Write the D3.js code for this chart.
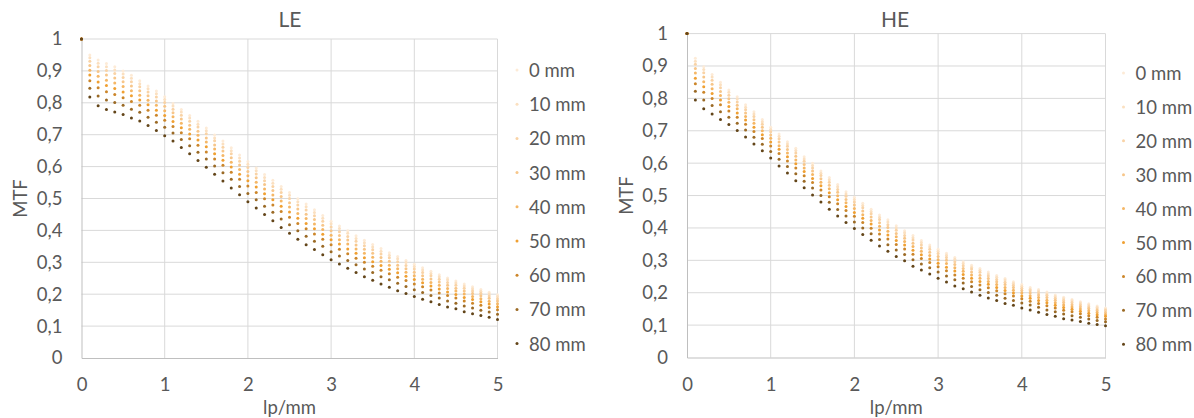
<!DOCTYPE html>
<html><head><meta charset="utf-8">
<script src="https://cdn.jsdelivr.net/npm/d3@7"></script>
<style>
body{margin:0;background:#fff;}
svg{display:block;font-family:Lato,"Open Sans",sans-serif;}
</style></head><body>
<svg id="c" width="1194" height="418"></svg>
<script>
// ---- data ----
const lpmm = [0,0.1,0.2,0.3,0.4,0.5,0.6,0.7,0.8,0.9,1.0,1.1,1.2,1.3,1.4,1.5,1.6,1.7,1.8,1.9,2.0,2.1,2.2,2.3,2.4,2.5,2.6,2.7,2.8,2.9,3.0,3.1,3.2,3.3,3.4,3.5,3.6,3.7,3.8,3.9,4.0,4.1,4.2,4.3,4.4,4.5,4.6,4.7,4.8,4.9,5.0];
const seriesLabels = ["0 mm","10 mm","20 mm","30 mm","40 mm","50 mm","60 mm","70 mm","80 mm"];
const chartTitles = ["LE","HE"];
const yTicks = [0,0.1,0.2,0.3,0.4,0.5,0.6,0.7,0.8,0.9,1];
const xTicks = [0,1,2,3,4,5];

const LE_0mm  = [1,.950,.934,.923,.913,.900,.886,.869,.853,.837,.819,.798,.779,.760,.742,.721,.699,.680,.659,.636,.616,.596,.575,.557,.538,.519,.499,.483,.465,.447,.429,.414,.399,.383,.369,.356,.343,.330,.318,.306,.294,.283,.272,.261,.251,.241,.232,.223,.215,.206,.198];
const LE_10mm = [1,.941,.924,.913,.903,.890,.877,.860,.844,.828,.810,.790,.771,.752,.733,.712,.690,.671,.650,.627,.607,.587,.566,.548,.529,.510,.490,.474,.456,.438,.421,.406,.391,.375,.361,.348,.335,.322,.311,.299,.287,.276,.265,.255,.245,.235,.226,.217,.209,.201,.193];
const LE_20mm = [1,.930,.913,.901,.892,.879,.866,.850,.834,.818,.801,.780,.761,.742,.724,.703,.681,.661,.640,.617,.597,.577,.556,.538,.519,.500,.480,.464,.446,.429,.411,.396,.381,.366,.352,.339,.326,.314,.302,.290,.279,.268,.258,.247,.237,.228,.219,.210,.203,.194,.186];
const LE_30mm = [1,.917,.898,.887,.878,.866,.853,.838,.822,.806,.789,.769,.749,.730,.711,.690,.668,.649,.628,.605,.585,.565,.544,.525,.506,.487,.467,.451,.434,.416,.399,.384,.370,.354,.341,.328,.315,.303,.291,.280,.269,.258,.248,.238,.228,.219,.210,.202,.195,.187,.179];
const LE_40mm = [1,.902,.883,.871,.862,.851,.838,.824,.808,.792,.775,.756,.736,.717,.698,.677,.655,.635,.614,.591,.571,.551,.530,.511,.492,.473,.453,.437,.420,.403,.385,.371,.357,.342,.328,.316,.303,.291,.280,.269,.258,.247,.237,.228,.218,.210,.201,.193,.186,.178,.170];
const LE_50mm = [1,.887,.865,.854,.845,.834,.822,.809,.794,.777,.760,.741,.722,.702,.683,.662,.640,.620,.599,.576,.556,.536,.515,.496,.476,.458,.438,.422,.405,.388,.371,.357,.342,.328,.314,.302,.290,.278,.267,.256,.246,.236,.226,.216,.207,.199,.190,.183,.176,.169,.161];
const LE_60mm = [1,.869,.847,.835,.826,.816,.804,.792,.777,.761,.745,.726,.706,.687,.667,.646,.624,.604,.582,.560,.539,.519,.499,.480,.459,.441,.422,.405,.389,.372,.355,.341,.327,.313,.300,.288,.275,.264,.253,.243,.232,.223,.213,.204,.196,.188,.179,.172,.165,.158,.151];
const LE_70mm = [1,.846,.821,.809,.801,.792,.780,.770,.755,.739,.723,.705,.685,.665,.645,.624,.602,.581,.560,.538,.516,.496,.476,.457,.436,.418,.399,.382,.366,.350,.333,.320,.306,.292,.279,.268,.255,.245,.234,.224,.214,.205,.196,.188,.179,.172,.163,.157,.150,.144,.137];
const LE_80mm = [1,.818,.791,.779,.771,.763,.752,.743,.729,.713,.697,.680,.660,.640,.619,.598,.576,.555,.533,.512,.490,.470,.450,.430,.409,.391,.372,.355,.340,.324,.308,.295,.281,.268,.255,.244,.232,.222,.211,.202,.193,.184,.176,.168,.160,.154,.145,.139,.133,.128,.121];

const HE_0mm  = [1,.924,.898,.874,.850,.826,.805,.780,.759,.735,.711,.690,.666,.646,.620,.600,.576,.556,.534,.512,.495,.476,.458,.440,.425,.407,.391,.377,.361,.347,.334,.322,.309,.296,.285,.275,.264,.253,.244,.234,.225,.216,.210,.202,.193,.186,.179,.172,.166,.159,.153];
const HE_10mm = [1,.915,.889,.866,.842,.819,.798,.773,.752,.728,.704,.683,.659,.639,.613,.593,.569,.549,.527,.505,.488,.469,.451,.433,.418,.400,.385,.370,.355,.341,.328,.316,.303,.290,.279,.269,.258,.248,.239,.229,.220,.211,.205,.197,.188,.181,.175,.168,.162,.155,.149];
const HE_20mm = [1,.905,.879,.856,.833,.810,.789,.765,.744,.720,.697,.675,.652,.631,.606,.585,.562,.541,.519,.498,.480,.462,.444,.426,.410,.393,.377,.363,.347,.334,.321,.309,.296,.283,.273,.263,.252,.241,.232,.223,.214,.206,.200,.192,.183,.176,.170,.163,.157,.150,.145];
const HE_30mm = [1,.892,.866,.844,.821,.799,.779,.755,.734,.711,.687,.665,.642,.621,.596,.576,.552,.532,.510,.488,.471,.452,.434,.416,.401,.383,.368,.353,.338,.325,.312,.300,.287,.275,.264,.254,.244,.234,.225,.216,.207,.199,.193,.185,.177,.170,.163,.157,.151,.145,.139];
const HE_40mm = [1,.878,.851,.830,.809,.788,.768,.744,.723,.700,.677,.654,.631,.610,.585,.565,.541,.521,.499,.478,.460,.441,.423,.405,.390,.373,.358,.343,.328,.315,.302,.290,.277,.266,.255,.245,.235,.225,.216,.208,.199,.191,.185,.177,.169,.162,.156,.150,.144,.139,.133];
const HE_50mm = [1,.862,.836,.815,.795,.775,.755,.733,.711,.688,.665,.643,.620,.598,.574,.553,.530,.509,.487,.466,.448,.430,.412,.394,.378,.361,.347,.331,.317,.304,.291,.279,.267,.256,.245,.235,.226,.216,.207,.199,.190,.183,.176,.169,.161,.154,.149,.143,.137,.132,.127];
const HE_60mm = [1,.845,.819,.800,.780,.761,.742,.720,.698,.676,.653,.630,.607,.585,.561,.540,.517,.496,.475,.454,.436,.417,.399,.381,.366,.349,.335,.319,.306,.293,.280,.268,.255,.245,.234,.224,.215,.206,.197,.190,.181,.174,.167,.160,.153,.146,.141,.135,.129,.124,.119];
const HE_70mm = [1,.822,.795,.778,.759,.742,.723,.702,.680,.658,.636,.612,.590,.567,.544,.523,.500,.479,.457,.437,.418,.400,.382,.364,.348,.332,.318,.302,.289,.277,.264,.252,.240,.230,.219,.209,.201,.192,.183,.176,.168,.162,.155,.147,.141,.134,.129,.124,.119,.114,.110];
const HE_80mm = [1,.795,.768,.752,.735,.719,.701,.681,.659,.638,.616,.591,.570,.546,.524,.502,.480,.458,.437,.417,.398,.380,.362,.344,.328,.312,.299,.282,.270,.258,.245,.233,.221,.212,.202,.192,.184,.176,.167,.161,.153,.147,.140,.133,.127,.120,.116,.111,.106,.102,.098];

const LE_series = [LE_0mm,LE_10mm,LE_20mm,LE_30mm,LE_40mm,LE_50mm,LE_60mm,LE_70mm,LE_80mm];
const HE_series = [HE_0mm,HE_10mm,HE_20mm,HE_30mm,HE_40mm,HE_50mm,HE_60mm,HE_70mm,HE_80mm];

// ---- style ----
const palette = ['#fdebd7','#fbe0c0','#f9d3a6','#f7c68a','#f5b766','#f0a032','#cc862a','#9b6a25','#634519'];
const textColor = '#595959';
const gridColor = '#d9d9d9';
const fmt = d3.formatLocale({decimal:",",thousands:".",grouping:[3],currency:["",""]}).format("~g");

const svg = d3.select('#c');

const panels = [
  {title: chartTitles[0], data: LE_series, x0: 81.5, x1: 497.5, yTop: 39, yBot: 358, titleX: 290, yTitleX: 20, legX: 517, legY0: 70, legDy: 34.2},
  {title: chartTitles[1], data: HE_series, x0: 687, x1: 1105.5, yTop: 33.6, yBot: 357.5, titleX: 895, yTitleX: 626, legX: 1123.5, legY0: 73, legDy: 33.9}
];

panels.forEach(p => {
  const x = d3.scaleLinear().domain([0,5]).range([p.x0, p.x1]);
  const y = d3.scaleLinear().domain([0,1]).range([p.yBot, p.yTop]);
  const g = svg.append('g');

  // gridlines
  g.append('g').selectAll('line.h').data(yTicks.filter(d => d > 0)).join('line')
    .attr('x1', p.x0).attr('x2', p.x1).attr('y1', d => y(d)).attr('y2', d => y(d))
    .attr('stroke', gridColor).attr('stroke-width', 1);
  g.append('g').selectAll('line.v').data(xTicks.filter(d => d > 0)).join('line')
    .attr('x1', d => x(d)).attr('x2', d => x(d)).attr('y1', p.yTop).attr('y2', p.yBot)
    .attr('stroke', gridColor).attr('stroke-width', 1);

  // axes
  const ya = g.append('g').attr('transform', `translate(${p.x0},0)`)
    .call(d3.axisLeft(y).tickValues(yTicks).tickFormat(fmt).tickSize(0).tickPadding(19));
  const xa = g.append('g').attr('transform', `translate(0,${p.yBot})`)
    .call(d3.axisBottom(x).tickValues(xTicks).tickFormat(fmt).tickSize(0).tickPadding(20));
  [ya, xa].forEach(a => {
    a.select('.domain').attr('stroke', '#bfbfbf');
    a.selectAll('text').attr('fill', textColor).style('font-size', '18.5px').style('font-family', 'Lato');
  });

  // points
  p.data.forEach((s, i) => {
    g.append('g').selectAll('circle').data(s).join('circle')
      .attr('cx', (d, j) => x(lpmm[j])).attr('cy', d => y(d)).attr('r', 1.5)
      .attr('fill', palette[i]);
  });

  // titles
  g.append('text').attr('x', p.titleX).attr('y', 18).attr('text-anchor', 'middle')
    .attr('dominant-baseline', 'central').attr('fill', textColor).style('font-size', '21px').text(p.title);
  g.append('text').attr('transform', `translate(${p.yTitleX},${(p.yTop + p.yBot) / 2}) rotate(-90)`)
    .attr('text-anchor', 'middle').attr('dominant-baseline', 'central').attr('fill', textColor)
    .style('font-size', '18.5px').text('MTF');
  g.append('text').attr('x', (p.x0 + p.x1) / 2).attr('y', 407).attr('text-anchor', 'middle')
    .attr('dominant-baseline', 'central').attr('fill', textColor).style('font-size', '18.5px').text('lp/mm');

  // legend
  const lg = g.append('g').selectAll('g').data(seriesLabels).join('g')
    .attr('transform', (d, i) => `translate(${p.legX},${p.legY0 + i * p.legDy})`);
  lg.append('circle').attr('r', 1.5).attr('fill', (d, i) => palette[i]);
  lg.append('text').attr('x', 12).attr('dominant-baseline', 'central').attr('fill', textColor)
    .style('font-size', '18.5px').text(d => d);
});
</script>
</body></html>
